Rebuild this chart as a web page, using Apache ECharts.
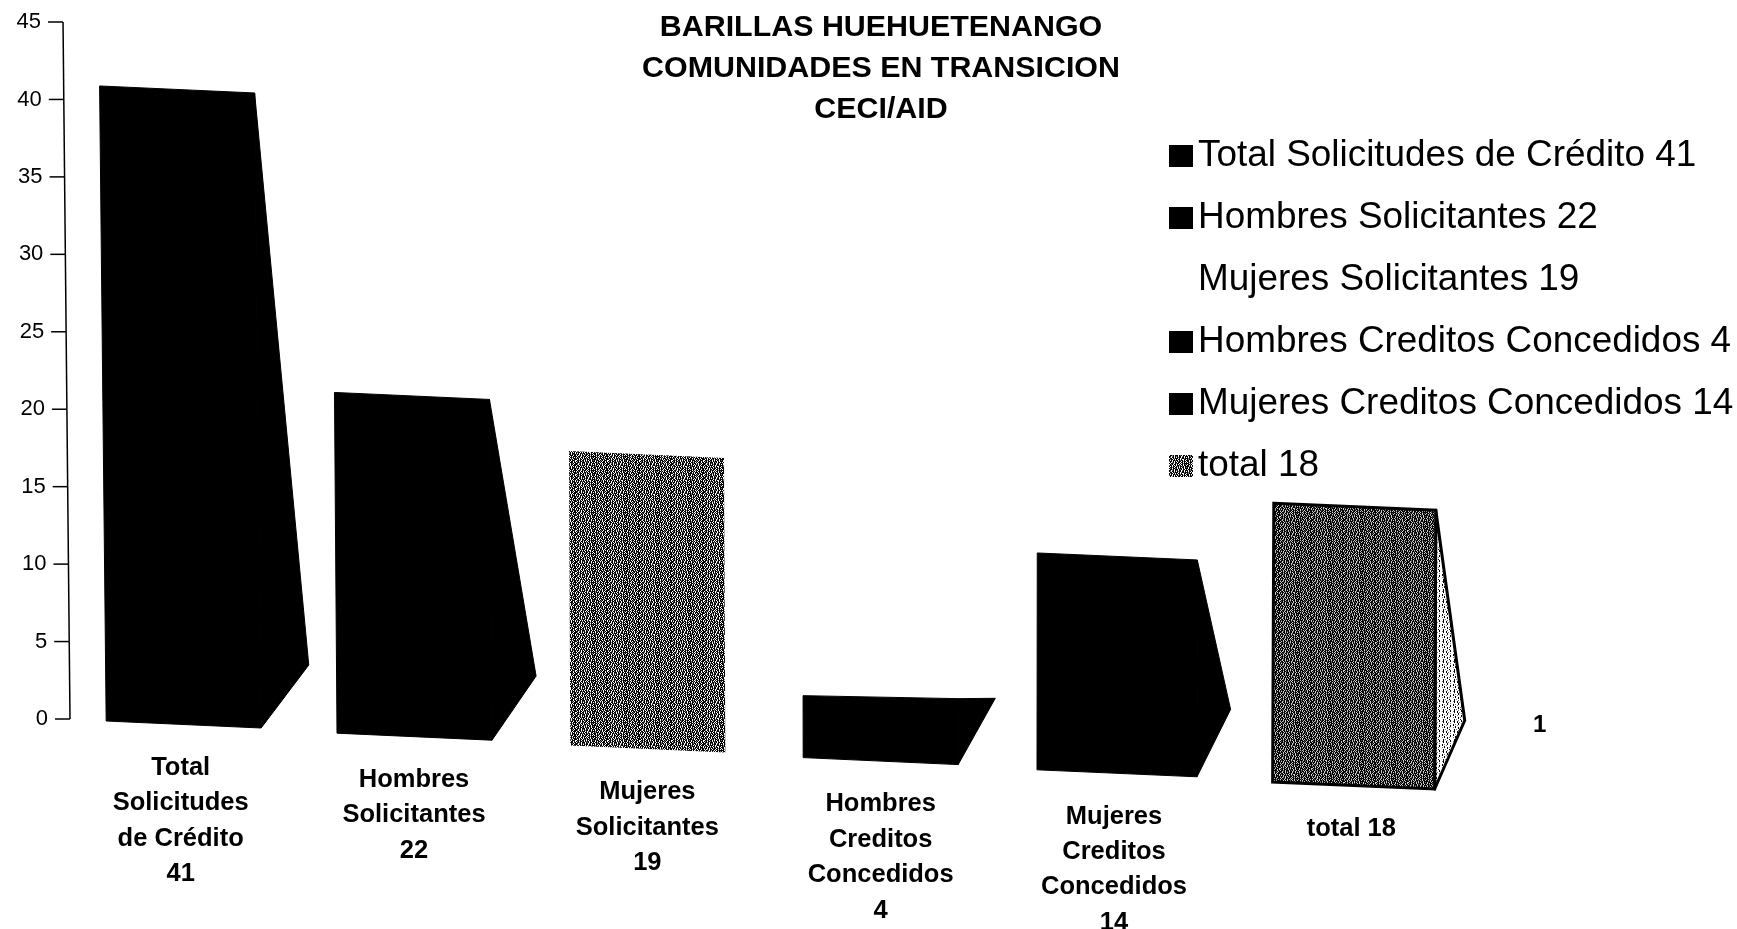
<!DOCTYPE html>
<html>
<head>
<meta charset="utf-8">
<style>html,body{margin:0;padding:0;background:#fff}#c{width:1737px;height:929px}</style>
<script src="https://cdn.jsdelivr.net/npm/echarts@6/dist/echarts.min.js"></script>
</head>
<body>
<div id="c"></div>
<script>
const titleLines = ['BARILLAS HUEHUETENANGO', 'COMUNIDADES EN TRANSICION', 'CECI/AID'];
const categories = ['Total Solicitudes de Crédito', 'Hombres Solicitantes', 'Mujeres Solicitantes', 'Hombres Creditos Concedidos', 'Mujeres Creditos Concedidos', 'total'];
const categoryLabels = ['Total\nSolicitudes\nde Crédito\n41', 'Hombres\nSolicitantes\n22', 'Mujeres\nSolicitantes\n19', 'Hombres\nCreditos\nConcedidos\n4', 'Mujeres\nCreditos\nConcedidos\n14', 'total 18'];
const values = [41, 22, 19, 4, 14, 18];
const yTicks = [0, 5, 10, 15, 20, 25, 30, 35, 40, 45];
const depthName = '1';

// texture tiles: # black, + mid, . light
const frontRows = [
  '.##+#.###.#+#.##.#.##+#.#.###.##',
  '##.+#.#+#.##.+#.###.#+##.#.#+#.#',
  '#+.##.#.#+##.##.#.#.##.#+#.##.##',
  '.##.#+###.#.+##+###+#.#.##.#.###',
  '#+##.#.#.##.#..##.#+###.#+#.#.#.',
  '#.#.##+##.#+##.#.###.#.##+#.###.',
  '+##.#.#.#+##.#+##.##.#+#.##.#+##',
  '.#.+#.##.##.##.#.#.#+##.#.###.##',
  '#.##+.#+##.#.#+#####.#.+##.#.###',
  '.#+#.##.#.#.##.#+#.##+#.#.##+#.#',
  '+##.#.#.##+#.#.##.##.#.###.#.###',
  '#.#.##.#+#.##+#.####+#.#.##+#.##',
  '.##+#.##.#.#.##.#+#.###.#+#.###.',
  '#+#.##+#.#+##.#.###.#.##+#.##.#.'
];
const sideRows = [
  '..#...+..#.',
  '.+#..#...#.',
  '..#..#.+...',
  '......#..+.',
  '.#.+..#....',
  '.#...+...#.',
  '...#.....#.',
  '.+.#..#.+..',
  '......#....',
  '..#.+...#..'
];
function tile(rows, col) {
  const cv = document.createElement('canvas');
  cv.width = rows[0].length; cv.height = rows.length;
  const g = cv.getContext('2d');
  rows.forEach((r, y) => [...r].forEach((ch, x) => { g.fillStyle = col[ch]; g.fillRect(x, y, 1, 1); }));
  return {image: cv, repeat: 'repeat'};
}
const frontTex = tile(frontRows, {'#': '#000', '+': '#777', '.': '#fff'});
const darkTex = tile(frontRows, {'#': '#000', '+': '#555', '.': '#ccc'});
const sideTex = tile(sideRows, {'#': '#000', '+': '#777', '.': '#fff'});

const legendColors = ['#000', '#000', 'rgba(255,255,255,0)', '#000', '#000', frontTex];
const barNudge = [0, -2.5, -2.5, -3, 0, 3.3];
const barWidth = [155, 155, 155, 155, 160, 162];
const topSlope = [7, 7, 7, 3, 7, 7];

const FONT = '"Liberation Sans", Arial, sans-serif';

function renderBar(params, api) {
  const i = api.value(0);
  const v = api.value(1);
  const c0 = api.coord([i, 0]);
  const c1 = api.coord([i, v]);
  const h = c0[1] - c1[1];
  const w = barWidth[i];
  const drop = 2 + 12.2 * i;
  const lean = (0.16 - 0.045 * i) * v;
  const baseY = c0[1] + drop;
  const bl = [c0[0] - w / 2 + barNudge[i], baseY];
  const br = [bl[0] + w, baseY + 7];
  const tl = [bl[0] - lean, baseY - h];
  const tr = [tl[0] + w, baseY - h + topSlope[i]];
  const outlined = i === 5;
  const children = [];
  if (i !== 2) {
    const tip = [br[0] + 47.6 - 3.5 * i, br[1] - (63 + 1.1 * i)];
    children.push({
      type: 'polygon',
      shape: {points: [tr, tip, br]},
      style: outlined ? {fill: sideTex, stroke: '#000', lineWidth: 3, lineJoin: 'round'} : {fill: '#000', stroke: '#000', lineWidth: 1}
    });
  }
  const frontStyle = i === 5 ? {fill: darkTex, stroke: '#000', lineWidth: 3}
    : i === 2 ? {fill: frontTex}
    : {fill: '#000', stroke: '#000', lineWidth: 1};
  children.push({type: 'polygon', shape: {points: [tl, tr, br, bl]}, style: frontStyle});
  children.push({
    type: 'text',
    style: {
      x: c0[0] - 3 + (i === 5 ? 4 : 0), y: baseY + 29,
      text: categoryLabels[i],
      font: 'bold 25.5px ' + FONT,
      lineHeight: 35.4,
      fill: '#000', align: 'center', verticalAlign: 'top'
    }
  });
  return {type: 'group', children};
}

function axisX(params, t) { return params.coordSys.x + 3 - 0.155 * t; }

function renderYTick(params, api) {
  const t = api.value(0);
  const y = api.coord([0, t])[1];
  const ax = axisX(params, t);
  const children = [
    {type: 'line', shape: {x1: ax - 15, y1: y, x2: ax, y2: y}, style: {stroke: '#000', lineWidth: 1.5}},
    {type: 'text', style: {x: ax - 22, y: y, text: String(t), font: '22px ' + FONT, fill: '#000', align: 'right', verticalAlign: 'middle'}}
  ];
  if (params.dataIndex > 0) {
    const prev = yTicks[params.dataIndex - 1];
    const py = api.coord([0, prev])[1];
    children.push({type: 'line', shape: {x1: axisX(params, prev), y1: py, x2: ax, y2: y}, style: {stroke: '#000', lineWidth: 1.5}});
  }
  return {type: 'group', children};
}

const series = categories.map((name, i) => ({
  type: 'custom',
  name: name + ' ' + values[i],
  coordinateSystem: 'cartesian2d',
  clip: false,
  silent: true,
  itemStyle: {color: legendColors[i]},
  renderItem: renderBar,
  encode: {x: 0, y: 1},
  data: [[i, values[i]]]
}));
series.push({
  type: 'custom',
  name: 'axis',
  coordinateSystem: 'cartesian2d',
  clip: false,
  silent: true,
  renderItem: renderYTick,
  encode: {y: 0},
  data: yTicks.map(t => [t])
});

const chart = echarts.init(document.getElementById('c'), null, {renderer: 'canvas'});
chart.setOption({
  animation: false,
  backgroundColor: '#fff',
  title: {
    text: titleLines.join('\n'),
    left: 876, top: 2, textAlign: 'center',
    textStyle: {fontFamily: FONT, fontWeight: 'bold', fontSize: 30.4, lineHeight: 41, color: '#000'}
  },
  grid: {left: 67, top: 22, width: 1400, height: 697, containLabel: false},
  xAxis: {type: 'category', data: categories, show: false},
  yAxis: {type: 'value', min: 0, max: 45, interval: 5, show: false},
  legend: {
    orient: 'vertical',
    left: 1164, top: 130,
    itemWidth: 24, itemHeight: 22,
    itemGap: 20,
    selectedMode: false,
    icon: 'rect',
    textStyle: {fontFamily: FONT, fontSize: 36.9, color: '#000', lineHeight: 42},
    data: categories.map((n, i) => ({name: n + ' ' + values[i], itemStyle: {color: legendColors[i]}}))
  },
  graphic: [{
    type: 'text', left: 1533, top: 713,
    style: {text: depthName, font: 'bold 24px ' + FONT, fill: '#000'}
  }],
  series
});
</script>
</body>
</html>
